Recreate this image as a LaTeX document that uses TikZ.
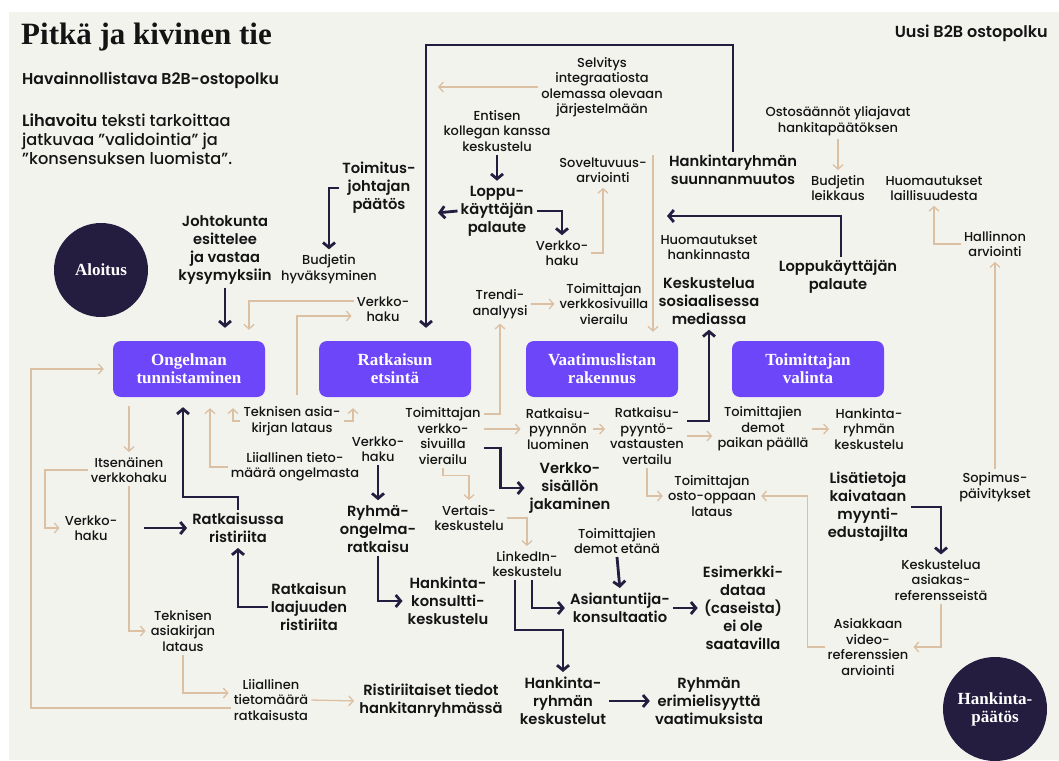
\documentclass[tikz,border=0pt]{standalone}
\usepackage{fontspec}
\setmainfont{Poppins}[UprightFont={* Medium}, BoldFont={* SemiBold}]
\newfontfamily\headserif{Liberation Serif}
\usetikzlibrary{arrows.meta}

\definecolor{paper}{RGB}{243,243,238}
\definecolor{navy}{RGB}{36,29,64}
\definecolor{phaseviolet}{RGB}{109,70,250}
\definecolor{sand}{RGB}{219,192,163}
\definecolor{ink}{RGB}{20,20,20}

\begin{document}
\begin{tikzpicture}[x=1pt,y=-1pt,
  small/.style={font=\fontsize{13}{15.5}\selectfont, align=center, text=ink, inner sep=3pt},
  strong/.style={font=\fontsize{14.7}{18}\selectfont\bfseries, align=center, text=ink, inner sep=3pt},
  phase/.style={fill=phaseviolet, rounded corners=8pt, minimum width=152pt, minimum height=56pt,
    text=white, align=center, font=\headserif\fontsize{17}{18}\selectfont\bfseries},
  endpt/.style={circle, fill=navy, minimum size=94pt, text=white, align=center,
    font=\headserif\fontsize{17}{18}\selectfont\bfseries},
  tarr/.style={draw=sand, line width=1.3pt, shorten >=2pt, -{Straight Barb[length=4.5pt,width=10pt]}},
  darr/.style={draw=navy, line width=2.8pt, shorten >=2pt, -{Straight Barb[length=5pt,width=12pt]}}]

  % canvas
  \fill[white] (0,0) rectangle (1059,760);
  \fill[paper] (9,12) rectangle (1059,760);
  \useasboundingbox (0,0) rectangle (1059,760);

  % header texts
  \node[anchor=west, inner sep=0, text=ink, font=\headserif\fontsize{31}{32}\selectfont\bfseries] (title) at (21,37) {Pitkä ja kivinen tie};
  \node[anchor=west, inner sep=0, text=ink, font=\fontsize{15.7}{18}\selectfont\bfseries] (sub) at (22,80) {Havainnollistava B2B-ostopolku};
  \node[anchor=north west, inner sep=0, text=ink, align=left, font=\fontsize{16.2}{19}\selectfont] (note) at (22,114)
    {\textbf{Lihavoitu} teksti tarkoittaa\\jatkuvaa "validointia" ja\\"konsensuksen luomista".};
  \node[anchor=east, inner sep=0, text=ink, font=\fontsize{16}{18}\selectfont\bfseries] (newpath) at (1048,33) {Uusi B2B ostopolku};

  % start and end
  \node[endpt] (start) at (101,270) {Aloitus};
  \node[endpt, minimum size=104pt] (goal) at (995,709) {Hankinta-\\päätös};

  % phases
  \node[phase] (ong) at (189,369) {Ongelman\\tunnistaminen};
  \node[phase] (ratk) at (395,369) {Ratkaisun\\etsintä};
  \node[phase] (vaat) at (602,369) {Vaatimuslistan\\rakennus};
  \node[phase] (valin) at (808,369) {Toimittajan\\valinta};

  % upper steps
  \node[small] (selv) at (602,87) {Selvitys\\integraatiosta\\olemassa olevaan\\järjestelmään};
  \node[small] (ent) at (497,131) {Entisen\\kollegan kanssa\\keskustelu};
  \node[strong] (lop) at (497,211) {Loppu-\\käyttäjän\\palaute};
  \node[small] (vh2) at (562,253) {Verkko-\\haku};
  \node[small] (sov) at (603,170) {Soveltuvuus-\\arviointi};
  \node[strong] (hsm) at (733,170) {Hankintaryhmän\\suunnanmuutos};
  \node[small] (oso) at (838,121) {Ostosäännöt yliajavat\\hankitapäätöksen};
  \node[small] (bud) at (838,188) {Budjetin\\leikkaus};
  \node[small] (huo) at (934,188) {Huomautukset\\laillisuudesta};
  \node[small] (hal) at (995,244) {Hallinnon\\arviointi};
  \node[small] (sop) at (995,487) {Sopimus-\\päivitykset};
  \node[small] (hnk) at (709,247) {Huomautukset\\hankinnasta};
  \node[strong] (lkp) at (838,277) {Loppukäyttäjän\\palaute};
  \node[strong] (ksm) at (709,301) {Keskustelua\\sosiaalisessa\\mediassa};
  \node[strong] (tjp) at (379,188) {Toimitus-\\johtajan\\päätös};
  \node[small] (bhy) at (329,269) {Budjetin\\hyväksyminen};
  \node[strong] (jvk) at (225,250) {Johtokunta\\esittelee\\ja vastaa\\kysymyksiin};
  \node[small] (vh1) at (383,309) {Verkko-\\haku};
  \node[small] (tre) at (500,304) {Trendi-\\analyysi};
  \node[small] (tvv) at (604,304) {Toimittajan\\verkkosivuilla\\vierailu};

  % lower steps
  \node[small] (tov) at (443,436) {Toimittajan\\verkko-\\sivuilla\\vierailu};
  \node[small] (rpl) at (558,429) {Ratkaisu-\\pyynnön\\luominen};
  \node[small] (rpv) at (647,436) {Ratkaisu-\\pyyntö-\\vastausten\\vertailu};
  \node[small] (tdp) at (763,429) {Toimittajien\\demot\\paikan päällä};
  \node[small] (hrk) at (869,429) {Hankinta-\\ryhmän\\keskustelu};
  \node[strong] (vsj) at (570,488) {Verkko-\\sisällön\\jakaminen};
  \node[small] (tol) at (712,496) {Toimittajan\\osto-oppaan\\lataus};
  \node[strong] (lis) at (868,507) {Lisätietoja\\kaivataan\\myynti-\\edustajilta};
  \node[small] (kar) at (941,580) {Keskustelua\\asiakas-\\referensseistä};
  \node[small] (avr) at (868,647) {Asiakkaan\\video-\\referenssien\\arviointi};
  \node[small] (itv) at (129,470) {Itsenäinen\\verkkohaku};
  \node[small] (vh3) at (91,528) {Verkko-\\haku};
  \node[strong] (rr) at (238,528) {Ratkaisussa\\ristiriita};
  \node[strong] (rl) at (309,607) {Ratkaisun\\laajuuden\\ristiriita};
  \node[small] (tk1) at (292,421) {Teknisen asia-\\kirjan lataus};
  \node[small] (lto) at (295,467) {Liiallinen tieto-\\määrä ongelmasta};
  \node[small] (tk2) at (183,631) {Teknisen\\asiakirjan\\lataus};
  \node[small] (lts) at (271,700) {Liiallinen\\tietomäärä\\ratkaisusta};
  \node[strong] (rtd) at (431,701) {Ristiriitaiset tiedot\\hankitanryhmässä};
  \node[small] (vh4) at (378,449) {Verkko-\\haku};
  \node[strong] (rom) at (378,529) {Ryhmä-\\ongelma-\\ratkaisu};
  \node[strong] (hkk) at (448,601) {Hankinta-\\konsultti-\\keskustelu};
  \node[small] (ver) at (469,518) {Vertais-\\keskustelu};
  \node[small] (lnk) at (527,564) {LinkedIn-\\keskustelu};
  \node[small] (tde) at (617,541) {Toimittajien\\demot etänä};
  \node[strong] (asi) at (620,608) {Asiantuntija-\\konsultaatio};
  \node[strong] (esi) at (743,608) {Esimerkki-\\dataa\\(caseista)\\ei ole\\saatavilla};
  \node[strong] (hrk2) at (563,701) {Hankinta-\\ryhmän\\keskustelut};
  \node[strong] (rem) at (709,701) {Ryhmän\\erimielisyyttä\\vaatimuksista};

  % free ends and rails
  \coordinate (loopL) at (426,45);
  \coordinate (selvEnd) at (436,87);
  \coordinate (lopEnd) at (436,213);
  \coordinate (hsTap) at (653,155);
  \coordinate (hnkEnd) at (665,216);
  \coordinate (tkUp) at (297,395);
  \coordinate (railA) at (45,0);
  \coordinate (railB) at (31,0);

  % top loop and upper connectors
  \draw[darr, shorten >=13pt] (hsm.north) |- (loopL) -- (loopL |- ratk.north);
  \draw[tarr] (selv.west) -- (selvEnd);
  \draw[darr] (ent.south) -- (lop.north);
  \draw[darr] (lop.west) -- (lopEnd);
  \draw[darr] (lop.east) -| (vh2.north);
  \draw[tarr] (vh2.east) -| (sov.south);
  \draw[tarr, shorten >=9pt] (hsTap) -- (hsTap |- vaat.north);
  \draw[tarr] (oso.south) -- (bud.north);
  \draw[tarr] (hal.west) -| (huo.south);
  \draw[tarr] (sop.north) -- (hal.south);
  \draw[darr] ([xshift=3pt]lkp.north) |- (hnkEnd);
  \draw[darr] (tjp.west) -| (bhy.north);
  \draw[darr, shorten >=13pt] (jvk.south) -- (jvk.south |- ong.north);
  \draw[tarr, shorten >=11pt] ([yshift=8pt]vh1.west) -| ([xshift=60pt]ong.north);
  \draw[tarr] (tkUp) |- ([yshift=-7pt]vh1.west);
  \draw[tarr] ([yshift=22pt]tov.east) -| (tre.south);
  \draw[tarr] (tre.east) -- (tvv.west);

  % middle connectors
  \draw[tarr] (tov.east |- rpl.west) -- (rpl.west);
  \draw[darr] ([yshift=-12pt]tov.east) -- ++(17,0) |- (vsj.west);
  \draw[tarr] (tov.south) -- ++(0,8) -| (ver.north);
  \draw[tarr] (rpl.east) -- (rpl.east -| rpv.west);
  \draw[tarr] (rpv.east) -- (rpv.east -| tdp.west);
  \draw[tarr] (tdp.east) -- (tdp.east -| hrk.west);
  \draw[darr] ([yshift=15pt]rpv.east) -| (ksm.south);
  \draw[tarr] (rpv.south) |- (tol.west);
  \draw[tarr] (avr.west) -- ++(-17,0) |- (tol.east);
  \draw[darr] (lis.east) -| (kar.north);
  \draw[tarr] (kar.south) |- (avr.east);

  % left side
  \draw[tarr, shorten <=9pt] (itv.north |- ong.south) -- (itv.north);
  \draw[tarr] (itv.west) -- (itv.west -| railA) |- (vh3.west);
  \draw[tarr, shorten >=9pt] ([yshift=-8pt]lts.west) -- ([yshift=-8pt]lts.west -| railB) |- (ong.west);
  \draw[tarr] (itv.south) |- (tk2.west);
  \draw[darr] ([xshift=24pt]vh3.east) -- (rr.west);
  \draw[darr, shorten >=10pt] (rr.north) -- ++(0,-13) -| ([xshift=-6pt]ong.south);
  \draw[darr] (rl.west) -| (rr.south);
  \draw[tarr, shorten >=11pt] (tk1.west) -| ([xshift=44pt]ong.south);
  \draw[tarr, shorten >=11pt] (tk1.east) -| ([xshift=-42pt]ratk.south);
  \draw[tarr, shorten >=11pt] (lto.west) -| ([xshift=21pt]ong.south);
  \draw[tarr] (tk2.south) |- ([yshift=7pt]lts.west);
  \draw[tarr] (lts.east) -- (rtd.west);

  % lower middle
  \draw[darr] (vh4.south) -- (rom.north);
  \draw[darr] (rom.south) |- (hkk.west);
  \draw[tarr] (ver.east) -| (lnk.north);
  \draw[darr] ([xshift=5pt]lnk.south) |- (asi.west);
  \draw[darr] ([xshift=-12pt]lnk.south) -- ++(0,50) -| (hrk2.north);
  \draw[darr] (tde.south) -- (asi.north);
  \draw[darr] (asi.east) -- (esi.west);
  \draw[darr] (hrk2.east) -- (rem.west);
\end{tikzpicture}
\end{document}
